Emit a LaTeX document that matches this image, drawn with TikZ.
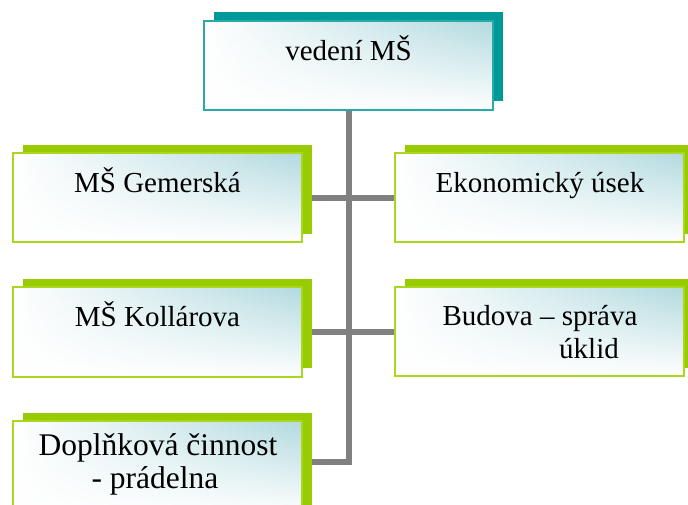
\documentclass[tikz,border=0pt]{standalone}
\usepackage{fontspec}
\setmainfont{Liberation Serif}
\usetikzlibrary{fadings}
\definecolor{tealS}{RGB}{0,153,153}
\definecolor{tealB}{RGB}{40,170,170}
\definecolor{greenS}{RGB}{153,204,0}
\definecolor{greenB}{RGB}{170,215,30}
\definecolor{fillT}{RGB}{178,218,223}
\definecolor{lineG}{RGB}{128,128,128}
\tikzfading[name=bottomwhite, top color=transparent!100, middle color=transparent!75, bottom color=transparent!0]
\tikzset{
  shadowbox/.style={fill=#1, draw=none},
  frontfill/.style={left color=white, middle color=fillT!45, right color=fillT},
  whiteveil/.style={fill=white, path fading=bottomwhite},
  frontedge/.style={draw=#1, line width=1.2pt},
  conn/.style={draw=lineG, line width=6pt},
  lbl/.style={anchor=base, inner sep=0pt, font=\fontsize{29}{33}\selectfont},
  lblbig/.style={anchor=base, inner sep=0pt, font=\fontsize{31.5}{33}\selectfont},
}
\newcommand{\frontbox}[3]{%
  \shade[frontfill] #2 rectangle #3;
  \fill[whiteveil] #2 rectangle #3;
  \draw[frontedge=#1] #2 rectangle #3;}
\begin{document}
\begin{tikzpicture}[x=1pt,y=-1pt]
\useasboundingbox[fill=white] (0,0) rectangle (688,504);
% connectors
\coordinate (vt) at (348.5,110);
\coordinate (vb) at (348.5,462);
\coordinate (l1) at (312,198);
\coordinate (l2) at (312,332);
\coordinate (l3) at (312,462);
\coordinate (r1) at (395,198);
\coordinate (r2) at (395,332);
\draw[conn] (vt) -- (vb);
\draw[conn] (l1) -- (r1);
\draw[conn] (l2) -- (r2);
\draw[conn] (l3) -- ([xshift=3pt]vb);
% top box
\fill[shadowbox=tealS] (214,12) rectangle (503,101);
\frontbox{tealB}{(204,21)}{(493,110)}
\node[lbl] (t0) at (348.5,60) {vedení MŠ};
% left column
\fill[shadowbox=greenS] (23,145) rectangle (312,234);
\frontbox{greenB}{(13,153)}{(302,242)}
\node[lbl] (t1) at (157.5,192) {MŠ Gemerská};
\fill[shadowbox=greenS] (23,279) rectangle (312,368);
\frontbox{greenB}{(13,287)}{(302,377)}
\node[lbl] (t2) at (157.5,326) {MŠ Kollárova};
\fill[shadowbox=greenS] (23,413) rectangle (312,510);
\frontbox{greenB}{(13,421)}{(302,515)}
\node[lblbig] (t3) at (158,455) {Doplňková činnost};
\node[lblbig] (t3b) at (155,488) {- prádelna};
% right column
\fill[shadowbox=greenS] (405,145) rectangle (695,234);
\frontbox{greenB}{(395,153)}{(684,242)}
\node[lbl] (t4) at (540,192) {Ekonomický úsek};
\fill[shadowbox=greenS] (405,279) rectangle (695,368);
\frontbox{greenB}{(395,287)}{(684,376)}
\node[lbl] (t5) at (540,325) {Budova -- správa};
\node[lbl] (t5b) at (589,358) {úklid};
\end{tikzpicture}
\end{document}
